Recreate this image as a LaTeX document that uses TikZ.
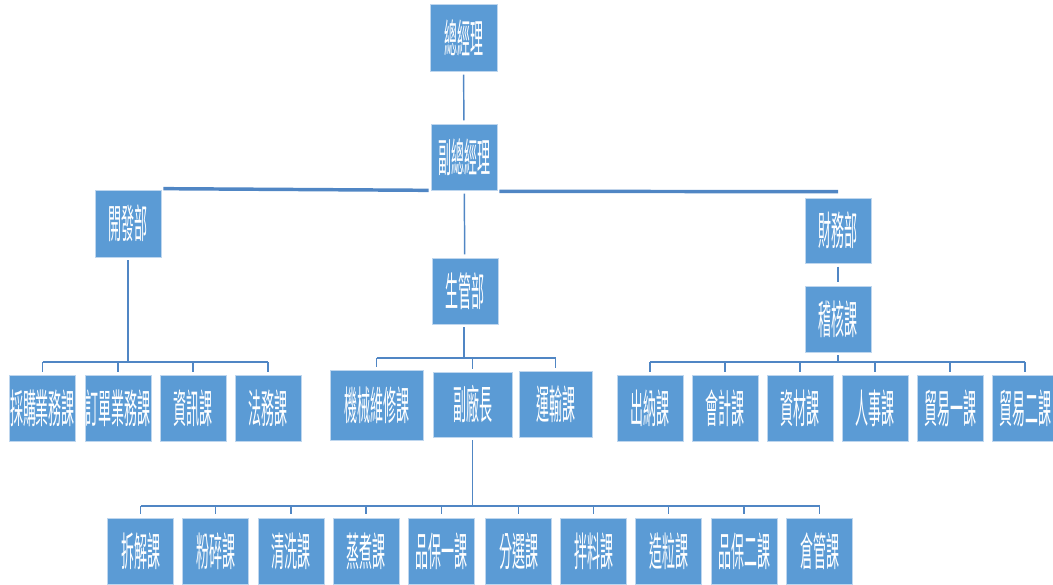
\documentclass[tikz,border=0pt]{standalone}
\usepackage{fontspec}
\newfontfamily\cjk[FakeStretch=0.325]{Noto Sans CJK TC}
\usetikzlibrary{calc,backgrounds}
\definecolor{boxblue}{RGB}{91,155,213}
\definecolor{linkblue}{RGB}{80,134,196}
\definecolor{boxedge}{RGB}{190,214,238}
\begin{document}
\begin{tikzpicture}[x=0.75pt,y=-0.75pt,
  unit/.style={rectangle, fill=boxblue, draw=boxedge, line width=0.5pt, text=white,
    inner sep=0pt, minimum width=49.5pt, minimum height=49.5pt,
    font=\cjk\fontsize{30}{30}\selectfont},
  sz/.style 2 args={minimum width=#1*0.75pt, minimum height=#2*0.75pt},
  link/.style={draw=linkblue, line width=1.1pt},
  bar/.style={draw=linkblue, line width=1.8pt},
  trunk/.style={draw=linkblue, line width=2.6pt},
  gap/.style={shorten >=2.5pt, shorten <=2.5pt}]
\useasboundingbox (0,0) rectangle (1053,585);
% top
\node[unit, sz={67}{67}] (zjl) at (463.5,37.5) {總經理};
\node[unit] (fzjl) at (464,157) {副總經理};
\node[unit, sz={66}{67}] (kfb) at (128,223.5) {開發部};
\node[unit] (sgb) at (465,291) {生管部};
\node[unit, sz={66}{65}] (cwb) at (838,230.5) {財務部};
\node[unit] (jhk) at (838,319) {稽核課};
% left row
\node[unit] (a1) at (42.5,408) {採購業務課};
\node[unit] (a2) at (118,408) {訂單業務課};
\node[unit] (a3) at (193,408) {資訊課};
\node[unit] (a4) at (268,408) {法務課};
% middle row
\node[unit, sz={93}{70}] (m1) at (376.5,405) {機械維修課};
\node[unit, sz={79}{65}] (m2) at (472.5,404.5) {副廠長};
\node[unit, sz={73}{66}] (m3) at (555.5,404) {運輸課};
% right row
\node[unit] (r1) at (650,408) {出納課};
\node[unit] (r2) at (725,408) {會計課};
\node[unit] (r3) at (800,408) {資材課};
\node[unit] (r4) at (875,408) {人事課};
\node[unit] (r5) at (950,408) {貿易一課};
\node[unit] (r6) at (1025,408) {貿易二課};
% bottom row
\node[unit] (d1) at (140.5,551) {拆解課};
\node[unit] (d2) at (215.5,551) {粉碎課};
\node[unit] (d3) at (291,551) {清洗課};
\node[unit] (d4) at (366,551) {蒸煮課};
\node[unit] (d5) at (441.5,551) {品保一課};
\node[unit] (d6) at (518.5,551) {分選課};
\node[unit] (d7) at (593.5,551) {拌料課};
\node[unit] (d8) at (668.5,551) {造粒課};
\node[unit] (d9) at (744,551) {品保二課};
\node[unit] (d10) at (819.5,551) {倉管課};
\coordinate (ya) at (0,362);
\coordinate (ym) at (0,358);
\coordinate (yr) at (0,362);
\coordinate (yd) at (0,506);
\begin{scope}[on background layer]
\draw[link, gap] (zjl) -- (fzjl);
\draw[link, gap] (fzjl) -- (sgb);
\draw[link, gap] (cwb) -- (jhk);
\draw[trunk] ($(kfb.north east)+(2,-1)$) -- ($(fzjl.south west)+(-2,0)$);
\draw[trunk] ($(fzjl.south east)+(2,1)$) -- ($(cwb.north)+(0,-6)$);
% left subtree
\draw[link] ($(kfb.south)+(0,3)$) -- (kfb.south |- ya);
\draw[bar] (a1.north |- ya) -- (a4.north |- ya);
\foreach \c in {a1,a2,a3,a4} \draw[link] (\c.north |- ya) -- ($(\c.north)+(0,-3)$);
% middle subtree
\draw[link] ($(sgb.south)+(-1,3)$) -- ($(sgb.south |- ym)+(-1,0)$);
\draw[bar] (m1.north |- ym) -- (m3.north |- ym);
\foreach \c in {m1,m2,m3} \draw[link] (\c.north |- ym) -- ($(\c.north)+(0,-3)$);
% right subtree
\draw[link] ($(jhk.south)+(0,3)$) -- (jhk.south |- yr);
\draw[bar] (r1.north |- yr) -- (r6.north |- yr);
\foreach \c in {r1,r2,r3,r4,r5,r6} \draw[link] (\c.north |- yr) -- ($(\c.north)+(0,-3)$);
% bottom subtree
\draw[link] ($(m2.south)+(0,3)$) -- (m2.south |- yd);
\draw[bar] (d1.north |- yd) -- (d10.north |- yd);
\foreach \c in {d1,d2,d3,d4,d5,d6,d7,d8,d9,d10} \draw[link] (\c.north |- yd) -- ($(\c.north)+(0,-4)$);
\end{scope}
\end{tikzpicture}
\end{document}
